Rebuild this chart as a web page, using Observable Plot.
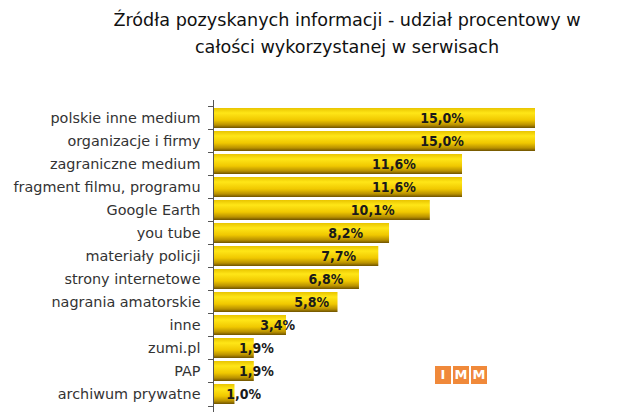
<!DOCTYPE html>
<html><head><meta charset="utf-8">
<script src="https://cdn.jsdelivr.net/npm/d3@7"></script>
<script src="https://cdn.jsdelivr.net/npm/@observablehq/plot@0.6"></script>
<style>
body{margin:0;background:#fff;width:640px;height:419px;overflow:hidden;position:relative;font-family:"DejaVu Sans",sans-serif}
#title{height:92px;box-sizing:border-box;padding-top:7px;padding-left:54px;text-align:center;font-size:17.6px;line-height:27px;color:#111}
#logo{position:absolute;left:435px;top:366px;display:flex;gap:2px}
#logo span{display:block;width:16px;height:18px;background:#f0893a;color:#fff;font:bold 13px "DejaVu Sans",sans-serif;line-height:18px;text-align:center}
</style></head>
<body>
<div id="title">Źródła pozyskanych informacji - udział procentowy w<br>całości wykorzystanej w serwisach</div>
<div id="chart"></div>
<div id="logo"><span>I</span><span>M</span><span>M</span></div>
<script>
const categories = ["polskie inne medium","organizacje i firmy","zagraniczne medium","fragment filmu, programu","Google Earth","you tube","materiały policji","strony internetowe","nagrania amatorskie","inne","zumi.pl","PAP","archiwum prywatne"];
const values = [15.0,15.0,11.6,11.6,10.1,8.2,7.7,6.8,5.8,3.4,1.9,1.9,1.0];
const valueLabels = ["15,0%","15,0%","11,6%","11,6%","10,1%","8,2%","7,7%","6,8%","5,8%","3,4%","1,9%","1,9%","1,0%"];
const data = categories.map((c,i)=>({category:c,value:values[i],label:valueLabels[i]}));

const chart = Plot.plot({
  width:640, height:327,
  marginTop:8, marginBottom:7, marginLeft:213, marginRight:105,
  x:{domain:[0,15], axis:null},
  y:{domain:categories, padding:0.14, axis:null},
  style:{fontFamily:"DejaVu Sans, sans-serif", fontSize:"14.4px", background:"transparent", overflow:"visible"},
  marks:[
    Plot.barX(data,{y:"category", x:"value", fill:"url(#barGrad)"}),
    Plot.axisY({tickSize:0, tickPadding:13, fontSize:14.4, fill:"#333", label:null}),
    Plot.axisY({text:null, tickSize:5, dy:-12, stroke:"#555", label:null}),
    Plot.axisY({ticks:[categories[categories.length-1]], text:null, tickSize:5, dy:12, stroke:"#555", label:null}),
    Plot.ruleX([0],{stroke:"#555"}),
    Plot.text(data,{y:"category", x:d=>d.value*0.66+0.75, text:"label", fontWeight:"bold", fontSize:14, fontFamily:"DejaVu Sans Condensed, DejaVu Sans, sans-serif", fill:"#1a1a1a"})
  ]
});
const ns = "http://www.w3.org/2000/svg";
const defs = document.createElementNS(ns,"defs");
defs.innerHTML = `<linearGradient id="barGrad" x1="0" y1="0" x2="0" y2="1">
<stop offset="0" stop-color="#e8c400"/><stop offset="0.25" stop-color="#ffe617"/>
<stop offset="0.6" stop-color="#f0c800"/><stop offset="0.85" stop-color="#b89000"/><stop offset="1" stop-color="#6e5200"/></linearGradient>`;
chart.insertBefore(defs, chart.firstChild);
document.getElementById("chart").appendChild(chart);
</script>
</body></html>
